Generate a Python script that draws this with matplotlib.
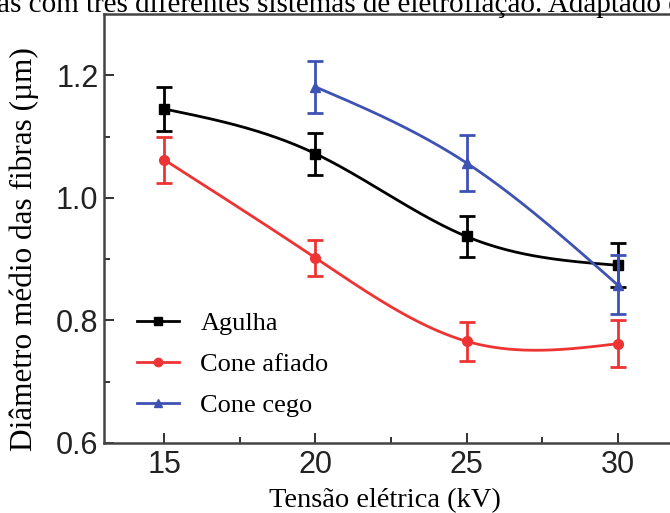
import numpy as np
import matplotlib.pyplot as plt

# Data
voltage = [15, 20, 25, 30]
agulha = [1.145, 1.072, 0.937, 0.890]
agulha_err = [0.036, 0.034, 0.034, 0.036]
cone_afiado = [1.062, 0.902, 0.766, 0.762]
cone_afiado_err = [0.037, 0.030, 0.032, 0.038]
voltage_cego = [20, 25, 30]
cone_cego = [1.181, 1.057, 0.858]
cone_cego_err = [0.042, 0.046, 0.048]

series = [
    ("Agulha", voltage, agulha, agulha_err, "black", "s"),
    ("Cone afiado", voltage, cone_afiado, cone_afiado_err, "#ee3333", "o"),
    ("Cone cego", voltage_cego, cone_cego, cone_cego_err, "#3d52b3", "^"),
]


def natural_spline(x, y, n=200):
    # natural cubic spline drawn through the measured points
    x = np.asarray(x, float)
    y = np.asarray(y, float)
    k = len(x)
    h = np.diff(x)
    A = np.zeros((k, k))
    b = np.zeros(k)
    A[0, 0] = A[-1, -1] = 1
    for i in range(1, k - 1):
        A[i, i - 1] = h[i - 1]
        A[i, i] = 2 * (h[i - 1] + h[i])
        A[i, i + 1] = h[i]
        b[i] = 3 * ((y[i + 1] - y[i]) / h[i] - (y[i] - y[i - 1]) / h[i - 1])
    c = np.linalg.solve(A, b)
    xs = np.linspace(x[0], x[-1], n)
    idx = np.clip(np.searchsorted(x, xs) - 1, 0, k - 2)
    dx = xs - x[idx]
    bb = (y[1:] - y[:-1]) / h - h * (2 * c[:-1] + c[1:]) / 3
    d = (c[1:] - c[:-1]) / (3 * h)
    ys = y[idx] + bb[idx] * dx + c[idx] * dx**2 + d[idx] * dx**3
    return xs, ys


fig = plt.figure(figsize=(6.7, 5.13), dpi=100)
ax = fig.add_axes([104 / 670, 1 - 443 / 513, 574 / 670, 429 / 513])

for label, x, y, err, color, marker in series:
    xs, ys = natural_spline(x, y)
    ax.plot(xs, ys, color=color, lw=2)
    ax.errorbar(x, y, yerr=err, fmt="none", ecolor=color, elinewidth=2,
                capsize=6, capthick=2)
    ax.plot(x, y, ls="none", marker=marker, color=color, ms=7)
    ax.plot([], [], color=color, marker=marker, ms=6, lw=2, label=label)

ax.set_xlim(13, 32)
ax.set_ylim(0.6, 1.3)
ax.set_xticks([15, 20, 25, 30])
ax.set_xticks([17.5, 22.5, 27.5], minor=True)
ax.set_yticks([0.6, 0.8, 1.0, 1.2])
ax.set_yticks([0.7, 0.9, 1.1], minor=True)
ax.set_yticklabels(["0.6", "0.8", "1.0", "1.2"])
ax.tick_params(which="both", direction="in", labelsize=22, width=1.3,
               labelfontfamily="Liberation Sans", colors="#222222")
ax.tick_params(which="major", length=7)
ax.tick_params(which="minor", length=4)
ax.tick_params(axis="x", pad=5)
ax.tick_params(axis="y", pad=4)
for s in ax.spines.values():
    s.set_linewidth(1.8)
    s.set_color("#444444")

ax.legend(loc="upper left", bbox_to_anchor=(0.0575, 0.306), frameon=False,
          prop={"family": "Liberation Serif", "size": 19}, handlelength=1.6,
          handletextpad=0.8, labelspacing=0.66, borderpad=0, borderaxespad=0)

fig.text(24 / 670, 1 - 249 / 513, "Diâmetro médio das fibras (µm)",
         rotation=90, ha="center", va="center", family="Liberation Serif",
         fontsize=22.5)
fig.text(385 / 670, 1 - 501 / 513, "Tensão elétrica (kV)", ha="center",
         va="center", family="Liberation Serif", fontsize=20.5)
fig.text(-3 / 670, 1 - 12 / 513,
         "as com três diferentes sistemas de eletrofiação. Adaptado de",
         ha="left", va="baseline", family="Liberation Serif", fontsize=21)

fig.savefig("out.png", dpi=100)
